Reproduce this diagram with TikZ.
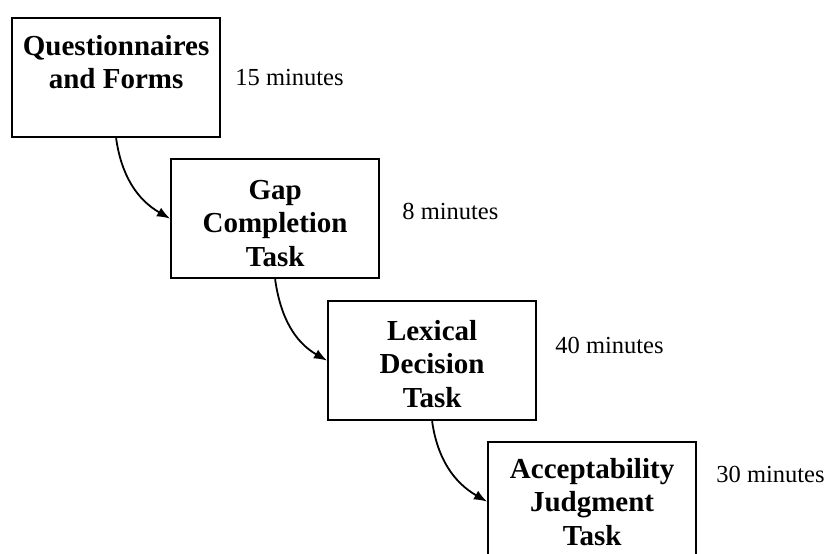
\documentclass[tikz,border=0pt]{standalone}
\usepackage{fontspec}
\setmainfont{Liberation Serif}
\usetikzlibrary{arrows.meta}
\tikzset{
  stagebox/.style={draw=black, line width=2.2pt, fill=white, minimum width=208pt, minimum height=119pt, inner sep=0pt, anchor=north west},
  stagetext/.style={anchor=base, align=center, inner sep=0pt, font=\bfseries\fontsize{29}{33.5}\selectfont},
  timelabel/.style={anchor=base west, inner sep=0pt, font=\fontsize{24.5}{28}\selectfont},
  flow/.style={line width=1.8pt, -{Latex[length=13pt,width=10pt]}}
}
\begin{document}
\begin{tikzpicture}[x=1pt,y=1pt]
\clip (0,0) rectangle (830,-554);
\fill[white] (0,0) rectangle (830,-554);
\node[stagebox] (b1) at (11,-17) {};
\node[stagebox] (b2) at (170,-158) {};
\node[stagebox] (b3) at (327,-300) {};
\node[stagebox] (b4) at (487,-441) {};
\node[stagetext] (t1) at ([yshift=-71.5pt]b1.north) {Questionnaires\\and Forms};
\node[stagetext] (t2) at ([yshift=-108pt]b2.north) {Gap\\Completion\\Task};
\node[stagetext] (t3) at ([yshift=-107pt]b3.north) {Lexical\\Decision\\Task};
\node[stagetext] (t4) at ([yshift=-104pt]b4.north) {Acceptability\\Judgment\\Task};
\node[timelabel] (m1) at ([shift={(14pt,-68pt)}]b1.north east) {15 minutes};
\node[timelabel] (m2) at ([shift={(22pt,-61pt)}]b2.north east) {8 minutes};
\node[timelabel] (m3) at ([shift={(18pt,-53pt)}]b3.north east) {40 minutes};
\node[timelabel] (m4) at ([shift={(19pt,-41pt)}]b4.north east) {30 minutes};
\draw[flow] (b1.south) to[out=-82, in=150] (b2.west);
\draw[flow] (b2.south) to[out=-82, in=150] (b3.west);
\draw[flow] (b3.south) to[out=-82, in=150] (b4.west);
\end{tikzpicture}
\end{document}
